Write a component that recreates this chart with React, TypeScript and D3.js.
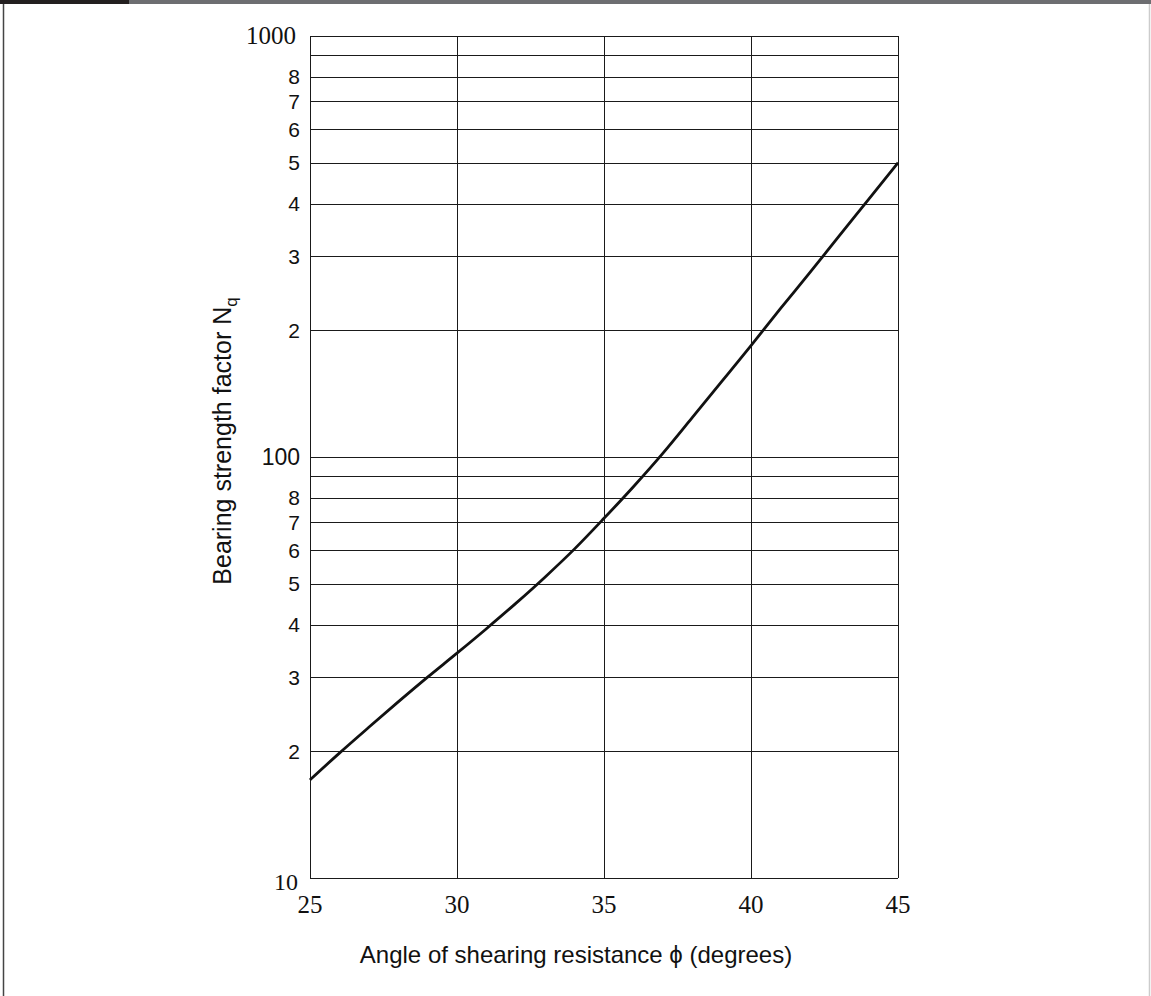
import React from "react";
import * as d3 from "d3";

// bearing strength factor Nq against angle of shearing resistance
const angles = [25, 26, 27, 28, 29, 30, 31, 32, 33, 34, 35, 36, 37, 38, 39, 40, 41, 42, 43, 44, 45];
const nqValues = [17.1, 19.8, 22.8, 26.2, 30.0, 34.2, 39.1, 44.9, 51.9, 60.5, 71.5, 85, 102, 124, 151, 184, 225, 274, 335, 409, 500];

const xTicks = [25, 30, 35, 40, 45];
const yGrid = [10, 20, 30, 40, 50, 60, 70, 80, 90, 100, 200, 300, 400, 500, 600, 700, 800, 900, 1000];
const yMinorLabels = [
  { v: 20, t: "2" }, { v: 30, t: "3" }, { v: 40, t: "4" }, { v: 50, t: "5" },
  { v: 60, t: "6" }, { v: 70, t: "7" }, { v: 80, t: "8" },
  { v: 200, t: "2" }, { v: 300, t: "3" }, { v: 400, t: "4" }, { v: 500, t: "5" },
  { v: 600, t: "6" }, { v: 700, t: "7" }, { v: 800, t: "8" },
];

const W = 1151;
const H = 996;
const sans = "'Liberation Sans', Arial, sans-serif";
const serif = "'Liberation Serif', 'Times New Roman', serif";

export default function App() {
  const x = d3.scaleLinear().domain([25, 45]).range([310, 898]);
  const y = d3.scaleLog().domain([10, 1000]).range([878, 36]);

  const line = d3
    .line<number>()
    .x((_, i) => x(angles[i]))
    .y((d) => y(d))
    .curve(d3.curveMonotoneX);

  return (
    <svg
      width={W}
      height={H}
      style={{ position: "absolute", left: 0, top: 0, display: "block", background: "#fff" }}
    >
      <rect x={0} y={0} width={129} height={4} fill="#231f20" />
      <rect x={129} y={0} width={W - 129} height={4} fill="#6d6e71" />
      <line x1={3.5} x2={3.5} y1={4} y2={H} stroke="#444" strokeWidth={1.5} />
      <line x1={1149.5} x2={1149.5} y1={4} y2={H} stroke="#ccc" strokeWidth={1.5} />

      {yGrid.map((v) => (
        <line key={v} x1={310} x2={898} y1={Math.round(y(v)) + 0.5} y2={Math.round(y(v)) + 0.5} stroke="#1a1a1a" strokeWidth={1} />
      ))}
      {xTicks.map((v) => (
        <line key={v} x1={Math.round(x(v)) + 0.5} x2={Math.round(x(v)) + 0.5} y1={y(1000)} y2={y(10)} stroke="#1a1a1a" strokeWidth={1} />
      ))}

      <path d={line(nqValues) ?? ""} fill="none" stroke="#111" strokeWidth={2.8} strokeLinejoin="round" />

      {yMinorLabels.map((d, i) => (
        <text key={i} x={300} y={y(d.v)} dy="0.36em" textAnchor="end" fontFamily={sans} fontSize={21} fill="#111">
          {d.t}
        </text>
      ))}
      <text x={300} y={y(100)} dy="0.36em" textAnchor="end" fontFamily={sans} fontSize={23} fill="#111">100</text>
      <text x={296} y={y(1000)} dy="0.33em" textAnchor="end" fontFamily={serif} fontSize={25} fill="#111">1000</text>
      <text x={298} y={890} textAnchor="end" fontFamily={serif} fontSize={24} fill="#111">10</text>

      {xTicks.map((v) => (
        <text key={v} x={x(v)} y={913} textAnchor="middle" fontFamily={serif} fontSize={25} fill="#111">
          {v}
        </text>
      ))}

      <text x={576} y={963} textAnchor="middle" fontFamily={sans} fontSize={24} fill="#111">
        Angle of shearing resistance ϕ (degrees)
      </text>
      <text
        transform="translate(231,441) rotate(-90)"
        textAnchor="middle"
        fontFamily={sans}
        fontSize={25}
        fill="#111"
      >
        Bearing strength factor N
        <tspan fontSize={17} dy={6}>q</tspan>
      </text>
    </svg>
  );
}
